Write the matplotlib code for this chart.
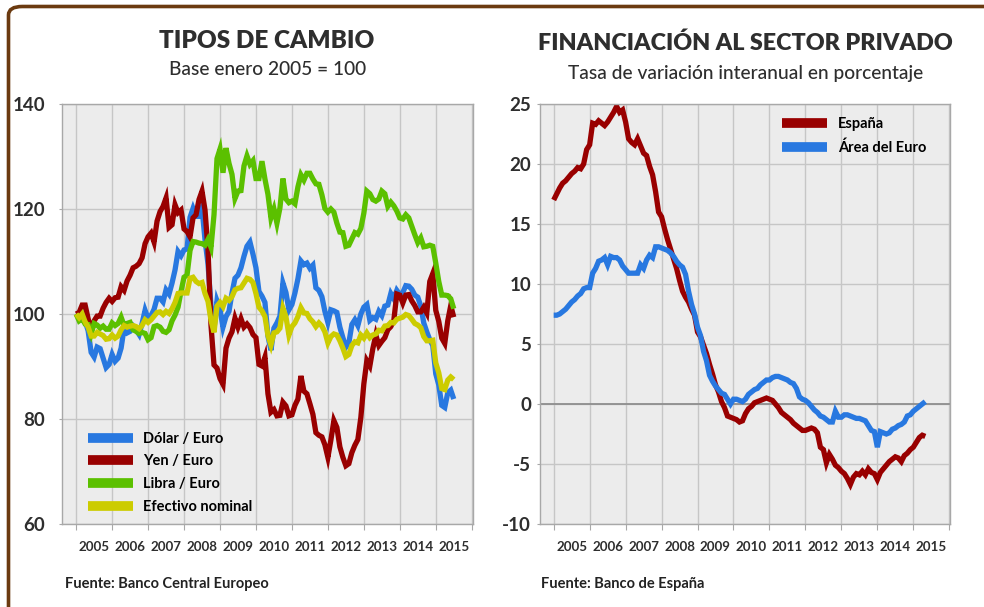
import matplotlib.pyplot as plt
import numpy as np
from matplotlib.patches import FancyBboxPatch

# Tipos de cambio, indice base enero 2005 = 100 (mensual, ene-2005 a jul-2015)
dolar = [100.0, 99.2, 100.6, 98.6, 96.8, 92.7, 91.8, 93.7, 93.4, 91.6, 89.8, 90.4,
         92.3, 91.0, 91.6, 93.5, 97.3, 96.4, 96.7, 97.7, 97.0, 96.1, 98.2, 100.7,
         99.1, 99.7, 100.9, 103.0, 103.0, 102.3, 104.6, 103.8, 105.9, 108.4, 111.9, 111.1,
         112.2, 112.4, 118.4, 120.1, 118.6, 118.6, 120.2, 114.1, 109.5, 101.5, 97.1, 102.5,
         100.9, 97.5, 99.5, 100.5, 104.0, 106.8, 107.4, 108.8, 111.0, 112.9, 113.7, 111.4,
         108.8, 104.3, 103.4, 102.2, 95.8, 93.1, 97.3, 98.3, 99.6, 105.9, 104.1, 100.8,
         101.8, 104.0, 106.7, 110.1, 109.4, 109.7, 108.7, 109.3, 105.0, 104.5, 103.3, 100.5,
         98.4, 100.8, 100.6, 100.3, 97.5, 95.5, 93.7, 94.5, 98.0, 98.9, 97.8, 100.0,
         101.3, 101.8, 98.8, 99.3, 99.0, 100.5, 99.7, 101.5, 101.7, 103.9, 102.9, 104.5,
         103.7, 104.1, 105.4, 105.3, 104.7, 103.6, 103.2, 101.5, 98.3, 96.6, 95.1, 94.0,
         88.6, 86.5, 82.6, 82.2, 85.0, 85.5, 83.8]
yen = [100.0, 100.3, 101.7, 101.7, 99.1, 96.8, 98.7, 99.6, 99.6, 101.1, 102.2, 103.0,
       102.4, 103.1, 103.2, 105.2, 104.5, 106.3, 107.4, 108.8, 109.1, 109.6, 110.7, 113.4,
       114.7, 115.4, 113.7, 117.7, 119.5, 120.5, 122.1, 116.5, 117.0, 120.8, 119.3, 119.8,
       116.2, 115.7, 114.7, 118.3, 118.9, 121.8, 123.4, 119.8, 112.2, 97.8, 90.3, 89.7,
       87.7, 86.6, 93.5, 95.4, 96.6, 99.2, 97.5, 99.1, 97.5, 98.1, 97.4, 96.1,
       95.5, 90.4, 90.1, 91.8, 84.8, 81.3, 81.8, 80.6, 80.7, 83.2, 82.5, 80.6,
       80.8, 82.6, 83.8, 88.2, 85.3, 84.8, 82.9, 80.9, 77.4, 76.9, 76.6, 75.1,
       72.7, 76.0, 79.7, 78.4, 74.7, 72.7, 71.1, 71.5, 73.6, 75.0, 76.1, 80.3,
       86.7, 91.1, 90.1, 93.4, 96.0, 94.0, 94.8, 95.5, 97.0, 97.6, 98.8, 103.8,
       103.6, 102.1, 103.6, 103.7, 102.5, 101.6, 100.4, 100.4, 101.3, 100.2, 106.2, 107.7,
       100.7, 98.6, 95.4, 94.4, 98.7, 101.6, 99.4]
libra = [100.0, 98.7, 99.1, 98.1, 98.0, 96.2, 98.2, 97.9, 97.3, 97.7, 97.1, 97.1,
         98.3, 97.8, 98.2, 99.4, 97.8, 98.2, 98.4, 97.0, 96.7, 96.3, 96.5, 96.3,
         95.1, 95.5, 97.6, 97.8, 97.5, 96.7, 96.5, 97.0, 98.7, 99.8, 101.3, 104.3,
         107.0, 107.4, 112.1, 113.8, 113.7, 113.5, 113.4, 113.1, 114.2, 112.7, 118.9, 129.6,
         131.4, 126.9, 131.6, 128.7, 126.6, 122.0, 123.4, 123.5, 128.2, 130.1, 128.5, 129.2,
         125.8, 125.8, 129.1, 125.7, 122.8, 118.3, 120.0, 117.3, 120.2, 125.8, 121.9, 121.2,
         121.5, 121.0, 124.2, 126.5, 125.5, 126.8, 126.8, 125.7, 124.8, 124.7, 122.7, 120.1,
         119.4, 120.0, 119.4, 117.3, 115.6, 115.5, 112.9, 113.1, 114.3, 115.5, 115.2, 116.3,
         119.2, 123.4, 122.9, 121.8, 121.5, 121.9, 123.4, 122.9, 120.5, 121.3, 120.6, 119.6,
         118.3, 118.1, 118.9, 118.3, 116.7, 115.1, 113.6, 114.5, 112.8, 112.9, 113.1, 112.9,
         109.7, 106.2, 103.6, 103.6, 103.5, 102.9, 101.0]
efectivo = [100.0, 99.3, 100.0, 98.5, 97.5, 95.8, 95.8, 96.5, 96.2, 95.9, 95.2, 95.3,
            96.0, 95.4, 95.8, 97.0, 97.8, 97.5, 97.7, 97.8, 97.6, 97.2, 97.8, 98.9,
            98.4, 98.9, 99.6, 100.3, 100.4, 99.9, 100.5, 100.1, 101.0, 102.2, 103.9, 104.0,
            104.0, 104.0, 106.8, 107.0, 106.2, 105.8, 106.0, 103.9, 102.4, 98.8, 96.5, 101.5,
            102.2, 101.4, 103.0, 102.6, 103.3, 104.6, 104.9, 105.0, 105.9, 106.8, 106.6, 106.0,
            103.9, 101.3, 100.6, 99.5, 95.9, 94.1, 96.4, 96.6, 97.3, 101.1, 99.5, 96.0,
            97.6, 98.3, 99.5, 101.2, 100.2, 100.1, 99.1, 98.5, 97.6, 98.3, 97.7, 96.6,
            94.5, 95.7, 96.2, 96.0, 94.9, 93.5, 91.9, 92.3, 94.0, 94.7, 94.5, 96.0,
            95.4, 96.4, 95.5, 96.0, 96.2, 96.9, 96.8, 97.7, 97.8, 98.4, 98.3, 99.0,
            99.2, 99.4, 99.9, 99.7, 99.0, 98.2, 97.9, 97.4, 95.7, 94.9, 94.9, 95.0,
            90.7, 88.8, 85.8, 85.6, 87.4, 88.0, 87.5]

# Financiacion al sector privado, tasa interanual % (mensual, ene-2005 a may-2015)
espana = [17.0, 17.5, 18.0, 18.4, 18.6, 18.9, 19.2, 19.4, 19.7, 19.6, 20.0, 21.2,
          21.6, 23.4, 23.3, 23.6, 23.4, 23.2, 23.5, 23.9, 24.3, 24.8, 24.3, 24.5,
          23.5, 22.1, 21.8, 21.6, 22.1, 21.5, 20.9, 20.7, 19.8, 19.1, 17.7, 16.0,
          15.6, 14.6, 13.7, 12.9, 12.1, 11.3, 10.3, 9.4, 8.9, 8.5, 7.9, 7.4,
          6.0, 5.6, 4.9, 4.2, 3.3, 2.5, 1.6, 1.0, 0.2, -0.3, -1.0, -1.1,
          -1.2, -1.3, -1.5, -1.4, -0.8, -0.4, -0.2, 0.1, 0.2, 0.3, 0.4, 0.5,
          0.4, 0.3, 0.0, -0.3, -0.7, -0.9, -1.1, -1.3, -1.6, -1.8, -2.0, -2.2,
          -2.2, -2.1, -2.0, -2.1, -2.4, -3.6, -3.8, -4.9, -4.2, -4.6, -5.1, -5.3,
          -5.6, -5.8, -6.2, -6.7, -6.1, -5.8, -5.9, -5.6, -5.9, -5.4, -5.7, -5.8,
          -6.3, -5.7, -5.4, -5.1, -4.8, -4.6, -4.4, -4.5, -4.8, -4.3, -4.1, -3.8,
          -3.6, -3.2, -2.8, -2.6, -2.7]
area_euro = [7.4, 7.4, 7.5, 7.7, 7.9, 8.2, 8.5, 8.7, 9.0, 9.2, 9.6, 9.7,
             9.7, 10.9, 11.3, 11.9, 12.0, 12.2, 11.6, 12.3, 12.2, 12.2, 12.0, 11.5,
             11.2, 10.9, 10.9, 10.9, 10.9, 11.6, 11.3, 12.0, 12.4, 12.2, 13.1, 13.1,
             13.0, 12.9, 12.8, 12.6, 12.3, 11.9, 11.6, 11.4, 10.8, 9.4, 8.3, 7.5,
             6.4, 5.7, 4.4, 3.6, 2.4, 1.9, 1.5, 1.2, 0.9, 0.8, 0.4, 0.0,
             0.4, 0.4, 0.3, 0.2, 0.4, 0.8, 1.0, 1.2, 1.3, 1.6, 1.8, 2.0,
             2.0, 2.2, 2.3, 2.3, 2.2, 2.1, 2.0, 1.8, 1.7, 1.3, 0.6, 0.4,
             0.3, 0.1, -0.2, -0.5, -0.7, -1.0, -1.1, -1.3, -1.5, -1.5, -0.6, -1.1,
             -1.1, -0.9, -0.9, -1.0, -1.1, -1.2, -1.2, -1.3, -1.4, -1.8, -2.2, -2.3,
             -3.6, -2.3, -2.4, -2.5, -2.4, -2.1, -2.0, -1.8, -1.7, -1.5, -1.0, -0.9,
             -0.6, -0.4, -0.2, 0.0, 0.2]

anios = list(range(2005, 2016))

AZUL = '#2878E0'
ROJO = '#990000'
VERDE = '#5BC000'
AMARILLO = '#CCCC00'
TEXTO = '#2E2E2E'

plt.rcParams['font.family'] = ['Lato', 'DejaVu Sans']
plt.rcParams['axes.unicode_minus'] = False


def meses(serie):
    return 2005 + np.arange(len(serie)) / 12


def preparar_ejes(ax, ymin, ymax, paso, pad_y):
    ax.set_facecolor('#ECECEC')
    ax.set_xlim(2004.62, 2016.03)
    ax.set_ylim(ymin, ymax)
    valores = np.arange(ymin, ymax + paso, paso)
    ax.set_yticks(valores)
    ax.set_yticklabels([str(v) for v in valores], fontweight='bold',
                       fontsize=13.5, color=TEXTO)
    ax.set_xticks(anios + [2016])
    ax.set_xticklabels([])
    ax.set_xticks([a + 0.5 for a in anios], minor=True)
    ax.set_xticklabels([str(a) for a in anios], minor=True,
                       fontweight='bold', fontsize=9.6, color=TEXTO)
    ax.grid(True, which='major', color='#C6C6C6', lw=1)
    ax.set_axisbelow(True)
    for lado in ax.spines.values():
        lado.set_color('#A8A8A8')
        lado.set_linewidth(1)
    ax.tick_params(axis='x', which='major', length=4.5, color='#A8A8A8')
    ax.tick_params(axis='x', which='minor', length=0, pad=12)
    ax.tick_params(axis='y', length=2.5, color='#A8A8A8', pad=pad_y)


def dibujar(ax, serie, color, etiqueta):
    ax.plot(meses(serie), serie, color=color, lw=3.8, label=etiqueta,
            solid_joinstyle='miter', solid_capstyle='butt')


fig = plt.figure(figsize=(9.84, 6.07), dpi=100)

# Panel izquierdo
ax1 = fig.add_axes([0.0635, 0.1367, 0.4170, 0.692])
preparar_ejes(ax1, 60, 140, 20, 10)
dibujar(ax1, dolar, AZUL, 'Dólar / Euro')
dibujar(ax1, yen, ROJO, 'Yen / Euro')
dibujar(ax1, libra, VERDE, 'Libra / Euro')
dibujar(ax1, efectivo, AMARILLO, 'Efectivo nominal')
leg1 = ax1.legend(loc='upper left', bbox_to_anchor=(0.062, 0.22), frameon=False,
                  borderpad=0, borderaxespad=0, handlelength=3.1, handletextpad=0.7,
                  labelspacing=0.6, prop={'weight': 'bold', 'size': 10.5})
for l in leg1.get_lines():
    l.set_linewidth(7)

# Panel derecho
ax2 = fig.add_axes([0.5488, 0.1367, 0.4170, 0.692])
preparar_ejes(ax2, -10, 25, 5, 4)
ax2.axhline(0, color='#8E8E8E', lw=1.3, zorder=1)
dibujar(ax2, espana, ROJO, 'España')
dibujar(ax2, area_euro, AZUL, 'Área del Euro')
leg2 = ax2.legend(loc='upper left', bbox_to_anchor=(0.59, 0.968), frameon=False,
                  borderpad=0, borderaxespad=0, handlelength=3.1, handletextpad=0.75,
                  labelspacing=0.62, prop={'weight': 'bold', 'size': 10.5})
for l in leg2.get_lines():
    l.set_linewidth(7)

# Titulos
fig.text(0.2715, 0.932, 'TIPOS DE CAMBIO', ha='center', va='center',
         fontsize=17.5, fontweight='heavy', color=TEXTO)
fig.text(0.2715, 0.885, 'Base enero 2005 = 100', ha='center', va='center',
         fontsize=13.8, fontweight='medium', color=TEXTO)
fig.text(0.7575, 0.928, 'FINANCIACIÓN AL SECTOR PRIVADO', ha='center', va='center',
         fontsize=16.8, fontweight='heavy', color=TEXTO)
fig.text(0.7575, 0.879, 'Tasa de variación interanual en porcentaje', ha='center',
         va='center', fontsize=13.8, fontweight='medium', color=TEXTO)

# Fuentes
fig.text(65 / 984, 1 - 584 / 607, 'Fuente: Banco Central Europeo', ha='left',
         va='center', fontsize=10.5, fontweight='bold', color='#222222')
fig.text(541 / 984, 1 - 584 / 607, 'Fuente: Banco de España', ha='left',
         va='center', fontsize=10.5, fontweight='bold', color='#222222')

# Marco marron (solo arriba e izquierda)
marco = FancyBboxPatch((8.5 / 984, -0.2), 1.3, 1.2 - 6.5 / 607,
                       boxstyle='round,pad=0,rounding_size=0.014',
                       transform=fig.transFigure, fill=False,
                       ec='#6B3A10', lw=2.6, clip_on=False)
fig.patches.append(marco)

fig.savefig('out.png', dpi=100)
